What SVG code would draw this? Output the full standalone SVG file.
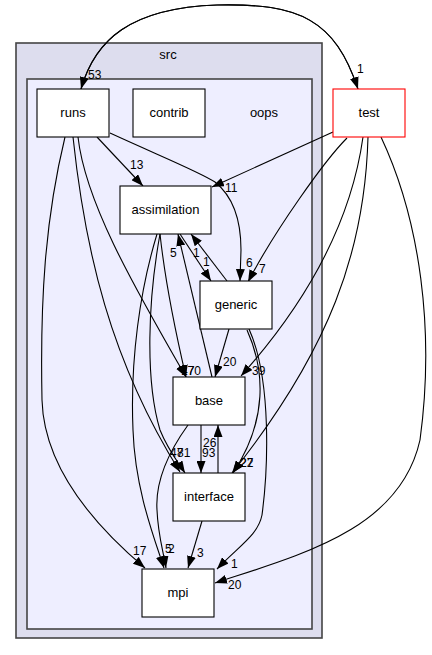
<svg xmlns="http://www.w3.org/2000/svg" width="432" height="655" viewBox="0 0 432 655">
<style>
text { font-family: "Liberation Sans", Arial, sans-serif; fill: #000; }
.nl { font-size: 13px; text-anchor: middle; }
.el { font-size: 12px; }
.node rect { fill: #fff; stroke: #000; stroke-width: 1.1; }
.cl { stroke: #444; stroke-width: 1.6; }
.edges path { fill: none; stroke: #000; stroke-width: 1.1; marker-end: url(#ah); }
</style>
<defs>
<marker id="ah" viewBox="0 0 12 9" refX="12" refY="4.5" markerWidth="12" markerHeight="9" markerUnits="userSpaceOnUse" orient="auto">
<path d="M0,0 L12,4.5 L0,9 z" fill="#000"/>
</marker>
</defs>
<rect width="432" height="655" fill="#fff"/>
<g id="cluster_src">
<rect class="cl" x="16" y="43" width="306" height="595" fill="#ddddee"/>
<text class="nl" x="168" y="59">src</text>
</g>
<g id="cluster_oops">
<rect class="cl" x="27" y="79" width="285" height="550" fill="#eeeeff"/>
<text class="nl" x="264" y="117">oops</text>
</g>
<g class="edges" id="edges">
<path d="M81,89 C95,40 130,8 217,5 C300,3 335,20 358,89" />
<path d="M358,89 C335,20 300,3 217,5 C130,8 95,40 81,89" />
<path d="M97,137 L143,186" />
<path d="M110,133 C160,156 200,172 215,182 C235,198 241,225 241,250 L240,281" />
<path d="M333,132 L212,187" />
<path d="M347,138 C325,160 275,230 248,282" />
<path d="M363,137 C350,230 300,310 241,376" />
<path d="M368,137 C365,250 330,350 232,473" />
<path d="M381,137 C420,220 435,330 420,440 C400,530 300,555 215,583" />
<path d="M229,329 L215,377" />
<path d="M247,330 C265,370 268,420 233,473" />
<path d="M249,329 C272,380 268,470 262,515 C258,535 240,545 217,569" />
<path d="M227,281 L191,234" />
<path d="M180,234 L211,281" />
<path d="M212,377 L178,234" />
<path d="M160,234 C165,280 175,330 186,377" />
<path d="M78,137 C85,200 130,280 186,377" />
<path d="M73,137 C85,250 110,360 180,472" />
<path d="M65,137 C45,220 40,300 42,400 C44,470 100,530 145,568" />
<path d="M160,234 C148,300 145,380 160,430 C168,450 178,462 185,473" />
<path d="M157,234 C140,290 130,360 133,430 C135,490 155,540 164,568" />
<path d="M188,425 C170,450 155,480 157,510 C158,535 163,550 166,568" />
<path d="M201,425 L201,473" />
<path d="M218,473 L218,425" />
<path d="M202,521 L188,568" />
</g>
<g id="edge_labels">
<text class="el" x="88" y="79">53</text>
<text class="el" x="357" y="73">1</text>
<text class="el" x="130" y="169">13</text>
<text class="el" x="246" y="267">6</text>
<text class="el" x="225" y="192">11</text>
<text class="el" x="259" y="273">7</text>
<text class="el" x="252" y="375">39</text>
<text class="el" x="240" y="467">22</text>
<text class="el" x="240" y="467">27</text>
<text class="el" x="228" y="589">20</text>
<text class="el" x="223" y="366">20</text>
<text class="el" x="231" y="568">1</text>
<text class="el" x="193" y="257">1</text>
<text class="el" x="203" y="266">1</text>
<text class="el" x="170" y="257">5</text>
<text class="el" x="181" y="375">47</text>
<text class="el" x="181" y="375">170</text>
<text class="el" x="170" y="457">47</text>
<text class="el" x="177" y="457">81</text>
<text class="el" x="133" y="555">17</text>
<text class="el" x="165" y="553">5</text>
<text class="el" x="168" y="553">2</text>
<text class="el" x="202" y="457">93</text>
<text class="el" x="203" y="447">26</text>
<text class="el" x="197" y="557">3</text>
</g>
<g id="node_runs" class="node"><rect x="37" y="89" width="72" height="48"/><text class="nl" x="73" y="117">runs</text></g>
<g id="node_contrib" class="node"><rect x="133" y="89" width="72" height="48"/><text class="nl" x="169" y="117">contrib</text></g>
<g id="node_test" class="node"><rect x="333" y="89" width="72" height="48" style="stroke:#ff0000"/><text class="nl" x="369" y="117">test</text></g>
<g id="node_assimilation" class="node"><rect x="120" y="186" width="91" height="48"/><text class="nl" x="165.5" y="214">assimilation</text></g>
<g id="node_generic" class="node"><rect x="200" y="281" width="72" height="48"/><text class="nl" x="236" y="309">generic</text></g>
<g id="node_base" class="node"><rect x="173" y="377" width="72" height="48"/><text class="nl" x="209" y="405">base</text></g>
<g id="node_interface" class="node"><rect x="173" y="473" width="72" height="48"/><text class="nl" x="209" y="501">interface</text></g>
<g id="node_mpi" class="node"><rect x="142" y="569" width="72" height="48"/><text class="nl" x="178" y="597">mpi</text></g>
</svg>
